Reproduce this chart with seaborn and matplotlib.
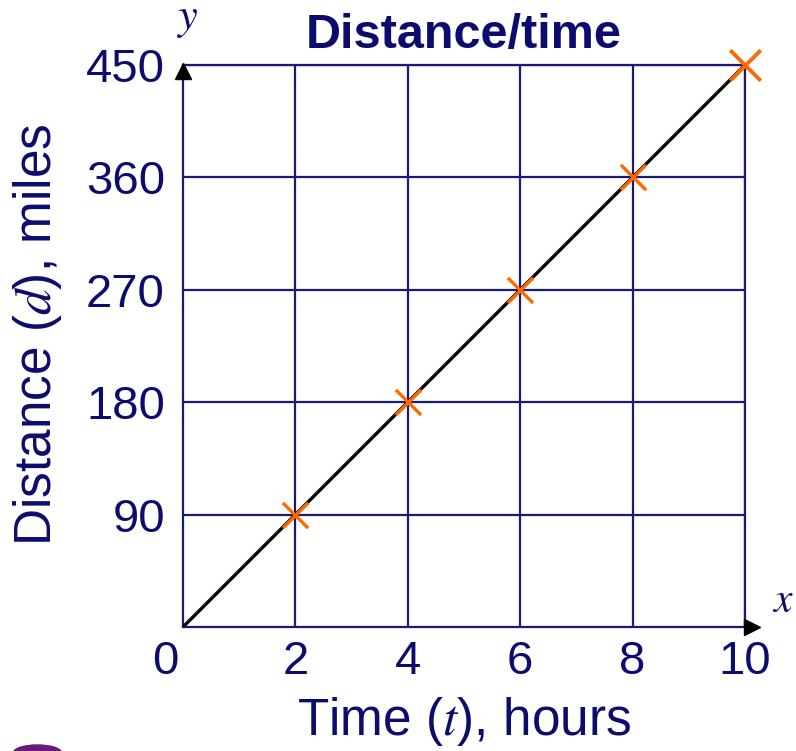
import pandas as pd
import matplotlib.pyplot as plt
import seaborn as sns
from matplotlib.patches import Ellipse

# data
time_h = [0, 2, 4, 6, 8, 10]
distance_mi = [0, 90, 180, 270, 360, 450]
x_ticks = [2, 4, 6, 8, 10]
y_ticks = [90, 180, 270, 360, 450]

navy = '#0c0c6e'
grid_navy = '#1a1a70'
orange = '#ff6a00'

sns.set_style('white')
plt.rcParams['font.family'] = ['Liberation Sans', 'DejaVu Sans']
plt.rcParams['mathtext.fontset'] = 'stix'

df = pd.DataFrame({'Time': time_h, 'Distance': distance_mi})

fig = plt.figure(figsize=(7.96, 7.51), dpi=100)
ax = fig.add_axes([0.2299, 0.1651, 0.7060, 0.7483])

# straight line through the origin
sns.lineplot(data=df, x='Time', y='Distance', color='black', linewidth=2.4, ax=ax, zorder=3)

# orange crosses on each point (last one a bit bigger)
pts = df[df['Time'] > 0]
sns.scatterplot(data=pts.iloc[:-1], x='Time', y='Distance', marker='x', s=330,
                color=orange, linewidth=2.4, ax=ax, zorder=4, clip_on=False)
sns.scatterplot(data=pts.iloc[-1:], x='Time', y='Distance', marker='x', s=480,
                color=orange, linewidth=2.8, ax=ax, zorder=4, clip_on=False)

ax.set_xlim(0, 10)
ax.set_ylim(0, 450)
ax.set_xticks(x_ticks)
ax.set_yticks(y_ticks)
ax.grid(True, color=grid_navy, linewidth=1.6)
for s in ax.spines.values():
    s.set_color(grid_navy)
    s.set_linewidth(1.6)
ax.tick_params(axis='both', length=0, labelsize=34, labelcolor=navy)
ax.tick_params(axis='x', pad=9)
ax.tick_params(axis='y', pad=13)

# shared origin label
ax.annotate('0', xy=(0, 0), xytext=(-13, -9), textcoords='offset points',
            ha='center', va='top', fontsize=34, color=navy)

# axis arrows
ax.plot([0], [445], marker='^', markersize=11, color='black', clip_on=False, zorder=5)
ax.plot([10.12], [0], marker='>', markersize=11, color='black', clip_on=False, zorder=5)

ax.set_xlabel(r'Time ($t$), hours', fontsize=37, color=navy, labelpad=8)
ax.set_ylabel(r'Distance ($d$), miles', fontsize=37, color=navy, labelpad=16)
ax.yaxis.label.set_y(0.52)
ax.set_title('Distance/time', fontsize=35, fontweight='bold', color=navy, pad=12)

ax.annotate(r'$y$', xy=(0, 450), xytext=(3, 18), textcoords='offset points',
            ha='center', va='bottom', fontsize=32, color=navy)
ax.annotate(r'$x$', xy=(10, 0), xytext=(27, 4), textcoords='offset points',
            ha='center', va='bottom', fontsize=30, color=navy)

# partial logo at the bottom edge
fig.patches.append(Ellipse((0.047, -0.002), 0.06, 0.02, transform=fig.transFigure,
                           color='#6a1a7a', clip_on=False))

plt.savefig('out.png', dpi=100)
